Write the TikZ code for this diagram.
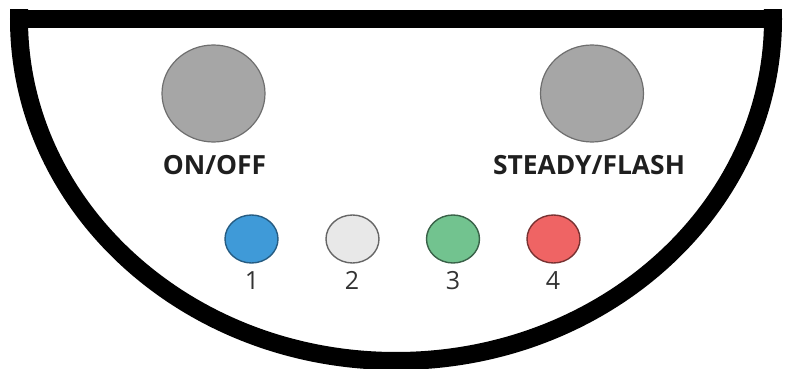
\documentclass[tikz,border=0pt]{standalone}
\usepackage{fontspec}
\setmainfont{Open Sans}
\usetikzlibrary{shapes.geometric}

\definecolor{knobgray}{HTML}{A6A6A6}
\definecolor{knobline}{HTML}{6E6E6E}
\definecolor{ledblue}{HTML}{3F9AD8}
\definecolor{ledwhite}{HTML}{E8E8E8}
\definecolor{ledgreen}{HTML}{72C38F}
\definecolor{ledred}{HTML}{EF6464}

\begin{document}
\begin{tikzpicture}[x=0.5pt,y=-0.5pt]
	\tikzstyle{knob}=[ellipse,draw=knobline,fill=knobgray,line width=0.6pt,minimum width=51.5pt,minimum height=48.5pt,inner sep=0pt]
	\tikzstyle{led}=[ellipse,line width=0.7pt,minimum width=26.5pt,minimum height=24pt,inner sep=0pt]
	\tikzstyle{knoblabel}=[anchor=base,inner sep=0pt,font=\fontsize{13.2}{15}\selectfont\bfseries,text=black!88]
	\tikzstyle{ledlabel}=[anchor=base,inner sep=0pt,font=\fontsize{12.5}{15}\selectfont,text=black!80]

	\useasboundingbox (0,0) rectangle (788,369);

	%housing
	\begin{scope}
		\clip (0,10) rectangle (788,372);
		\draw[line width=9pt] (396,19) ellipse [x radius=377,y radius=342];
	\end{scope}
	\draw[line width=9pt] (10,19) -- (782,19);

	%switches
	\node[knob] (onoff) at (213.5,93.5) {};
	\node[knob] (steady) at (592,93.5) {};
	\node[knoblabel] (onoffLabel) at (214.5,175) {ON/OFF};
	\node[knoblabel] (steadyLabel) at (589,175) {STEADY/FLASH};

	%leds
	\node[led,draw=ledblue!60!black,fill=ledblue] (led1) at (251.5,239) {};
	\node[led,draw=black!60,fill=ledwhite] (led2) at (352.5,239) {};
	\node[led,draw=ledgreen!50!black,fill=ledgreen] (led3) at (453,239) {};
	\node[led,draw=ledred!50!black,fill=ledred] (led4) at (553.5,239) {};
	\node[ledlabel] (num1) at (252,290) {1};
	\node[ledlabel] (num2) at (352,290) {2};
	\node[ledlabel] (num3) at (453,290) {3};
	\node[ledlabel] (num4) at (553,290) {4};
\end{tikzpicture}
\end{document}
